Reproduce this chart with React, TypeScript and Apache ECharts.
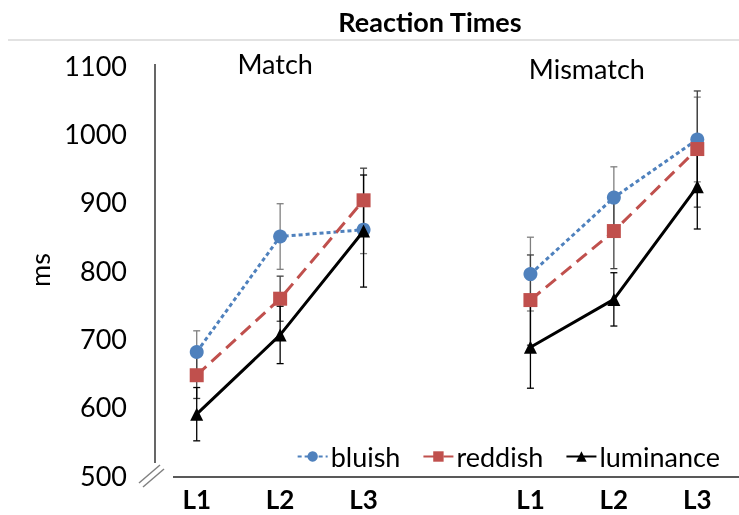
import React, { useEffect, useRef } from 'react';
import * as echarts from 'echarts';

const categories = ['L1', 'L2', 'L3', '', 'L1', 'L2', 'L3'];
const seriesNames = ['bluish', 'reddish', 'luminance'];
const bluish = [680, 849, 859, null, 794, 906, 991];
const reddish = [646, 758, 902, null, 756, 857, 977];
const luminance = [589, 705, 857, null, 687, 757, 922];
const bluishErr = [31, 48, 35, null, 54, 45, 62];
const reddishErr = [34, 33, 47, null, 66, 55, 85];
const luminanceErr = [39, 42, 82, null, 60, 39, 62];
const yMin = 500;
const yMax = 1100;
const yStep = 100;
const panelTitles = ['Match', 'Mismatch'];
const chartTitle = 'Reaction Times';

const FONT = 'Lato, "Open Sans", sans-serif';
const GRID_LEFT = 155;
const GRID_TOP = 65;
const GRID_BOTTOM = 40;

export default function App() {
  const ref = useRef<HTMLDivElement>(null);
  useEffect(() => {
    const chart = echarts.init(ref.current!, null, { renderer: 'svg' });

    const errData = (vals: (number | null)[], errs: (number | null)[]) =>
      vals
        .map((v, i) => (v == null ? null : [i, v - (errs[i] as number), v + (errs[i] as number)]))
        .filter((d) => d !== null);

    const errSeries = (name: string, vals: (number | null)[], errs: (number | null)[], color: string) => ({
      type: 'custom',
      name: name + '-err',
      z: 1,
      silent: true,
      data: errData(vals, errs),
      renderItem: (params: any, api: any) => {
        const x = api.value(0);
        const lo = api.coord([x, api.value(1)]);
        const hi = api.coord([x, api.value(2)]);
        const cap = 3.5;
        const style = { stroke: color, lineWidth: 1.3 };
        return {
          type: 'group',
          children: [
            { type: 'line', shape: { x1: lo[0], y1: lo[1], x2: hi[0], y2: hi[1] }, style },
            { type: 'line', shape: { x1: lo[0] - cap, y1: lo[1], x2: lo[0] + cap, y2: lo[1] }, style },
            { type: 'line', shape: { x1: hi[0] - cap, y1: hi[1], x2: hi[0] + cap, y2: hi[1] }, style },
          ],
        };
      },
    });

    const colors = ['#4f81bd', '#c0504d', '#000000'];

    const option: any = {
      animation: false,
      grid: { left: GRID_LEFT, right: 0, top: GRID_TOP, bottom: GRID_BOTTOM, containLabel: false },
      legend: {
        data: seriesNames,
        right: 14,
        top: 438,
        itemWidth: 30,
        itemHeight: 13,
        itemGap: 22,
        textStyle: { fontFamily: FONT, fontSize: 27, color: '#000', padding: [0, 0, 0, -2] },
      },
      xAxis: {
        type: 'category',
        data: categories,
        boundaryGap: true,
        axisLine: { show: false },
        axisTick: { show: false },
        axisLabel: { fontFamily: FONT, fontSize: 26, fontWeight: 'bold', color: '#000', margin: 11, interval: 0 },
      },
      yAxis: {
        type: 'value',
        min: yMin,
        max: yMax,
        interval: yStep,
        splitLine: { show: false },
        axisLine: { show: false },
        axisTick: { show: false },
        axisLabel: {
          fontFamily: FONT,
          fontSize: 27,
          color: '#000',
          margin: 28,
          formatter: (v: number) => String(v),
        },
        name: 'ms',
        nameLocation: 'middle',
        nameGap: 96,
        nameTextStyle: { fontFamily: FONT, fontSize: 27, color: '#000' },
      },
      series: [
        errSeries('bluish', bluish, bluishErr, '#7f7f7f'),
        errSeries('reddish', reddish, reddishErr, '#404040'),
        errSeries('luminance', luminance, luminanceErr, '#000000'),
        {
          type: 'line',
          name: 'bluish',
          data: bluish,
          z: 3,
          connectNulls: false,
          symbol: 'circle',
          symbolSize: 14,
          itemStyle: { color: colors[0] },
          lineStyle: { color: colors[0], width: 3, type: [4, 3] },
        },
        {
          type: 'line',
          name: 'reddish',
          data: reddish,
          z: 3,
          connectNulls: false,
          symbol: 'rect',
          symbolSize: 14,
          itemStyle: { color: colors[1] },
          lineStyle: { color: colors[1], width: 3, type: [13, 7] },
        },
        {
          type: 'line',
          name: 'luminance',
          data: luminance,
          z: 4,
          connectNulls: false,
          symbol: 'triangle',
          symbolSize: 13,
          itemStyle: { color: colors[2] },
          lineStyle: { color: colors[2], width: 3 },
        },
      ],
    };
    chart.setOption(option);

    const yTopPx = chart.convertToPixel({ yAxisIndex: 0 }, yMax) as number;
    const yBotPx = chart.convertToPixel({ yAxisIndex: 0 }, yMin) as number;
    const matchX = chart.convertToPixel({ xAxisIndex: 0 }, 1) as number;
    const mismatchX = chart.convertToPixel({ xAxisIndex: 0 }, 5) as number;

    chart.setOption({
      graphic: [
        {
          type: 'line',
          shape: { x1: 8, y1: 40, x2: 739, y2: 40 },
          style: { stroke: '#d9d9d9', lineWidth: 1.5 },
        },
        {
          type: 'text',
          x: 430,
          y: 21,
          style: {
            text: chartTitle,
            fontFamily: FONT,
            fontSize: 27,
            fontWeight: 'bold',
            fill: '#000',
            textAlign: 'center',
            textVerticalAlign: 'middle',
          },
        },
        {
          type: 'text',
          x: matchX - 5,
          y: 63,
          style: {
            text: panelTitles[0],
            fontFamily: FONT,
            fontSize: 27,
            fill: '#000',
            textAlign: 'center',
            textVerticalAlign: 'middle',
          },
        },
        {
          type: 'text',
          x: mismatchX - 27,
          y: 68,
          style: {
            text: panelTitles[1],
            fontFamily: FONT,
            fontSize: 27,
            fill: '#000',
            textAlign: 'center',
            textVerticalAlign: 'middle',
          },
        },
        {
          type: 'line',
          shape: { x1: GRID_LEFT, y1: yTopPx - 1, x2: GRID_LEFT, y2: yBotPx - 12 },
          style: { stroke: '#000', lineWidth: 1.2 },
        },
        {
          type: 'line',
          shape: { x1: GRID_LEFT + 18, y1: yBotPx + 2, x2: 739, y2: yBotPx + 2 },
          style: { stroke: '#595959', lineWidth: 2 },
        },
        {
          type: 'line',
          shape: { x1: 139, y1: yBotPx + 8, x2: 160, y2: yBotPx - 10 },
          style: { stroke: '#808080', lineWidth: 1.5 },
        },
        {
          type: 'line',
          shape: { x1: 143, y1: yBotPx + 12, x2: 164, y2: yBotPx - 6 },
          style: { stroke: '#808080', lineWidth: 1.5 },
        },
      ],
    });

    return () => chart.dispose();
  }, []);
  return <div ref={ref} style={{ position: 'fixed', left: 0, top: 0, width: 739, height: 515 }} />;
}
